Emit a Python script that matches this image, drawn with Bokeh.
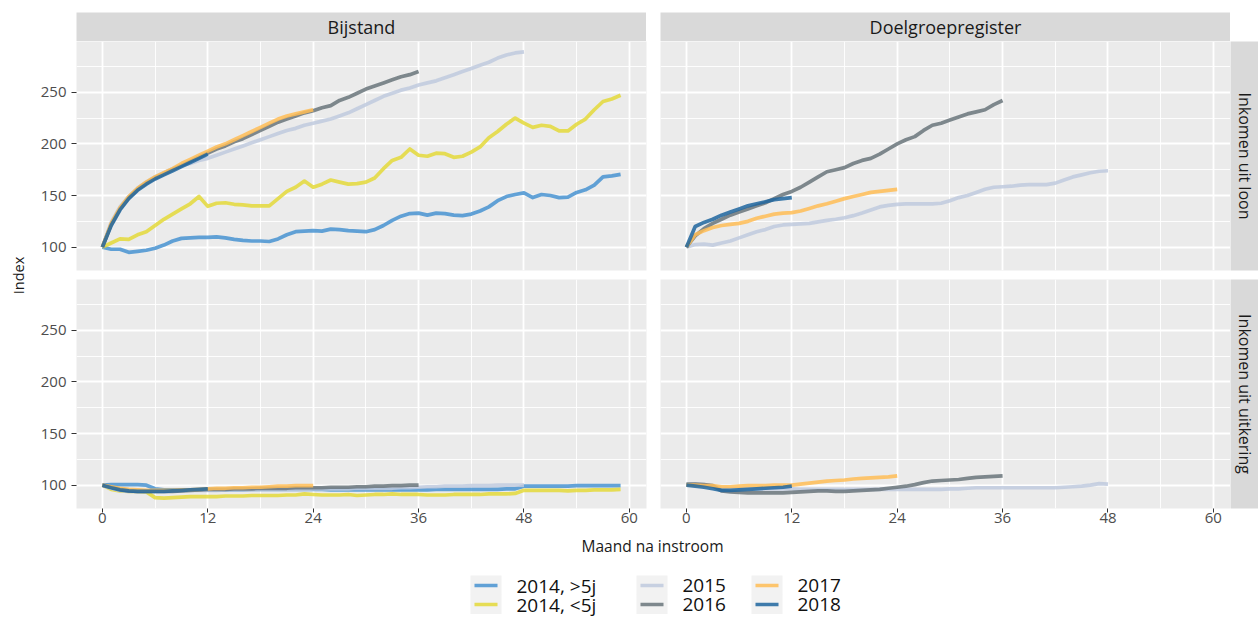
import math
from bokeh.plotting import figure
from bokeh.models import Range1d, FixedTicker, Label, Spacer
from bokeh.layouts import column, row
from bokeh.embed import file_html
from bokeh.resources import INLINE

FONT = "Open Sans"

# ---------------- data ----------------
series_names = ["2014, >5j", "2014, <5j", "2015", "2016", "2017", "2018"]
series_colors = ["#4893D1", "#E4D93A", "#C0CADE", "#6A757B", "#FFBD56", "#20669F"]

facet_cols = ["Bijstand", "Doelgroepregister"]
facet_rows = ["Inkomen uit loon", "Inkomen uit uitkering"]

x_ticks = [0, 12, 24, 36, 48, 60]
x_minor = [6, 18, 30, 42, 54]
y_ticks = [100, 150, 200, 250]
y_minor = [125, 175, 225, 275]

# Bijstand - Inkomen uit loon
bij_loon_2014_gt5 = [100, 98, 98, 95, 96, 97, 99, 102, 106, 108.5,
                     109, 109.5, 109.5, 110, 109, 107.5, 106.5, 106, 106, 105.5,
                     108, 112, 115, 115.5, 116, 115.5, 117.5, 117, 116, 115.5,
                     115, 117, 121, 126, 130, 132.5, 133, 131, 133, 132.5,
                     131, 130.5, 132, 135, 139, 145, 149, 151, 152.5, 148,
                     151, 150, 148, 148.5, 153, 155.5, 160, 168, 169, 170.5]
bij_loon_2014_lt5 = [100, 104, 108, 107.5, 112, 115, 121, 127, 132, 137,
                     142, 149, 139.5, 142.5, 143, 141.5, 141, 140, 140, 140,
                     147, 154, 158, 164, 158, 161, 165, 163, 161, 161.5,
                     163, 167, 176, 184, 187, 195, 189, 188, 191, 190.5,
                     187, 188, 192, 197, 206, 212, 219, 225, 220, 216,
                     218, 217, 212.5, 212.5, 219, 224, 233, 241, 243.5, 247]
bij_loon_2015 = [100, 124, 139, 149, 157, 163, 168, 172, 176, 179,
                 181, 184, 186, 189, 192, 195, 198, 201, 204, 207,
                 210, 213, 215, 218, 220, 222, 224, 227, 230, 234,
                 238, 242, 246, 249, 252, 254, 257, 259, 261, 264,
                 267, 270, 273, 276, 279, 283, 286, 288, 289]
bij_loon_2016 = [100, 122, 137, 148, 156, 162, 167, 171, 175, 179,
                 183, 187, 191, 195, 198, 202, 205, 209, 213, 217,
                 221, 224, 227, 230, 232, 235, 237, 242, 245, 249,
                 253, 256, 259, 262, 265, 267, 270]
bij_loon_2017 = [100, 123, 138, 149, 157, 163, 168, 172, 176, 181,
                 185, 189, 193, 197, 200, 204, 208, 212, 216, 220,
                 224, 227, 229, 231, 233]
bij_loon_2018 = [100, 121, 136, 147, 155, 161, 166, 170, 174, 178,
                 182, 186, 190]

# Doelgroepregister - Inkomen uit loon
dgr_loon_2015 = [100, 102.5, 103, 102, 104, 106, 109, 112, 115, 117,
                 120, 121.5, 122, 122.5, 123, 124.5, 126, 127, 128.5, 130.5,
                 133, 136, 139, 140.5, 141.5, 142, 142, 142, 142, 142.5,
                 145, 148, 150, 153, 156, 158, 158.5, 159, 160, 160.5,
                 160.5, 160.5, 162, 165, 168, 170, 172, 173.5, 174]
dgr_loon_2016 = [100, 111, 118, 123, 127, 131, 134, 137, 140, 143,
                 147, 151, 154, 158, 163, 168, 173, 175, 177, 181,
                 184, 186, 190, 195, 200, 204, 207, 213, 218, 220,
                 223, 226, 229, 231, 233, 238, 242]
dgr_loon_2017 = [100, 112, 116, 119, 121, 122, 123, 125, 128, 130,
                 132, 133, 133.5, 135, 137.5, 140, 142, 144.5, 147, 149,
                 151, 153, 154, 155, 156]
dgr_loon_2018 = [100, 120, 124, 127, 131, 134, 137, 140, 142, 144,
                 146, 147, 148]

# Bijstand - Inkomen uit uitkering
bij_uitk_2014_gt5 = [100, 100.5, 100.5, 100.5, 100.5, 100, 96.5, 95.5, 95.5, 95.5,
                     95.5, 95.5, 95.5, 95.5, 95.5, 95.5, 95.5, 96, 96, 96,
                     96, 96, 96, 96, 96, 96, 95.5, 95.5, 95.5, 95.5,
                     95.5, 95.5, 95.5, 95.5, 95.5, 95.5, 95.5, 95.5, 96, 96,
                     96, 96, 96, 96, 96, 96, 96.5, 96.5, 99, 99,
                     99, 99, 99, 99, 99.5, 99.5, 99.5, 99.5, 99.5, 99.5]
bij_uitk_2014_lt5 = [100, 96, 94.5, 94, 94, 93.5, 88, 87.5, 88, 88.5,
                     89, 89, 89, 89, 89.5, 89.5, 89.5, 90, 90, 90,
                     90, 90.5, 90.5, 91.5, 91, 90.5, 90.5, 90.5, 91, 90,
                     90.5, 91, 91, 91.5, 91, 91, 91, 90.5, 90.5, 90.5,
                     91, 91, 91, 91, 91.5, 91.5, 91.5, 92, 95, 95,
                     95, 95, 95, 94.5, 95, 95, 95.5, 95.5, 95.5, 96]
bij_uitk_2015 = [100, 97, 95, 94, 94, 94, 94.5, 94.5, 94.5, 95,
                 95, 95, 95, 95, 95.5, 95.5, 95.5, 95.5, 96, 96,
                 96, 96, 96, 96, 96.5, 96.5, 96.5, 96.5, 96.5, 97,
                 97, 97, 97, 97, 97.5, 97.5, 98, 98.5, 98.5, 99,
                 99, 99, 99.5, 99.5, 99.5, 100, 100, 100, 100]
bij_uitk_2016 = [100, 98, 96, 94.5, 94, 94, 94, 94, 94, 94.5,
                 95, 95.5, 96, 96, 96, 96.5, 96.5, 96.5, 97, 97,
                 97, 97, 97.5, 97.5, 97.5, 97.5, 98, 98, 98, 98.5,
                 98.5, 99, 99, 99.5, 99.5, 100, 100]
bij_uitk_2017 = [100, 98.5, 97, 96, 95.5, 95, 95, 95, 95, 95.5,
                 95.5, 96, 96.5, 97, 97, 97.5, 97.5, 98, 98, 98.5,
                 99, 99, 99.5, 99.5, 99.5]
bij_uitk_2018 = [100, 97.5, 95.5, 94.5, 94, 94, 94, 94, 94.5, 95,
                 95.5, 96, 96.5]

# Doelgroepregister - Inkomen uit uitkering
dgr_uitk_2015 = [100, 101, 100.5, 99, 97, 96.5, 96.5, 96.5, 96.5, 96.5,
                 96.5, 96.5, 96.5, 96, 96, 96, 96, 96, 96, 96,
                 96, 96, 96, 96, 96, 96, 96, 96, 96, 96,
                 96.5, 96.5, 97, 97.5, 97.5, 97.5, 97.5, 97.5, 97.5, 97.5,
                 97.5, 97.5, 97.5, 98, 98.5, 99, 100, 101.5, 101]
dgr_uitk_2016 = [101, 101, 100.5, 99.5, 94.5, 93.5, 93, 92.5, 92.5, 92.5,
                 92.5, 92.5, 93, 93.5, 94, 94.5, 94.5, 94, 94, 94.5,
                 95, 95.5, 96, 97, 98, 99, 100.5, 102.5, 104, 104.5,
                 105, 105.5, 106.5, 107.5, 108, 108.5, 109]
dgr_uitk_2017 = [100, 100, 99.5, 99.5, 98.5, 98.5, 99, 99.5, 99.5, 99.5,
                 100, 100, 100, 101, 102, 103, 104, 104.5, 105, 106,
                 106.5, 107, 107.5, 108, 109]
dgr_uitk_2018 = [100, 99, 98, 96.5, 95, 95, 95.5, 96, 96.5, 97,
                 97.5, 98, 99]

panel_data = {
    (0, 0): [bij_loon_2014_gt5, bij_loon_2014_lt5, bij_loon_2015, bij_loon_2016, bij_loon_2017, bij_loon_2018],
    (0, 1): [None, None, dgr_loon_2015, dgr_loon_2016, dgr_loon_2017, dgr_loon_2018],
    (1, 0): [bij_uitk_2014_gt5, bij_uitk_2014_lt5, bij_uitk_2015, bij_uitk_2016, bij_uitk_2017, bij_uitk_2018],
    (1, 1): [None, None, dgr_uitk_2015, dgr_uitk_2016, dgr_uitk_2017, dgr_uitk_2018],
}

# ---------------- shared scales (ggplot-like 5% expansion) ----------------
all_vals = [v for lst in panel_data.values() for s in lst if s is not None for v in s]
all_x_max = max(len(s) - 1 for lst in panel_data.values() for s in lst if s is not None)
y_lo, y_hi = min(all_vals), max(all_vals)
y_pad = 0.05 * (y_hi - y_lo)
x_pad = 0.05 * all_x_max
x_range = Range1d(0 - x_pad, all_x_max + x_pad)
y_range = Range1d(y_lo - y_pad, y_hi + y_pad)

PANEL_BG = "#EBEBEB"
STRIP_BG = "#D9D9D9"
FRAME_W = 570
FRAME_H = 229
LEFT_W = 28      # y-title column
RSTRIP_W = 28    # right strip width
TOP_GAP = 12
ROW_GAP = 9
X_AXIS_H = 25


def panel(r, c):
    show_x = (r == 1)
    show_y = (c == 0)
    mb_left = 48 if show_y else 0
    mb_right = 14 if c == 0 else 0
    mb_bottom = X_AXIS_H if show_x else ROW_GAP
    p = figure(width=mb_left + FRAME_W + mb_right, height=FRAME_H + mb_bottom,
               x_range=x_range, y_range=y_range,
               x_axis_location="below" if show_x else None,
               y_axis_location="left" if show_y else None,
               output_backend="svg", toolbar_location=None, title=None,
               min_border_left=mb_left, min_border_right=mb_right,
               min_border_top=0, min_border_bottom=mb_bottom,
               background_fill_color=PANEL_BG, border_fill_color="white",
               outline_line_color=None)
    p.xgrid.ticker = FixedTicker(ticks=x_ticks, minor_ticks=x_minor)
    p.ygrid.ticker = FixedTicker(ticks=y_ticks, minor_ticks=y_minor)
    for g in (p.xgrid, p.ygrid):
        g.grid_line_color = "white"
        g.grid_line_width = 1.8
        g.minor_grid_line_color = "white"
        g.minor_grid_line_width = 0.9
    if show_x:
        ax = p.xaxis[0]
        ax.ticker = FixedTicker(ticks=x_ticks)
        ax.major_tick_out = 4
        ax.major_label_standoff = 0
    if show_y:
        ax = p.yaxis[0]
        ax.ticker = FixedTicker(ticks=y_ticks)
        ax.major_tick_out = 5
        ax.major_label_standoff = 5
    for ax in p.axis:
        ax.axis_line_color = None
        ax.major_tick_in = 0
        ax.major_tick_line_color = "#333333"
        ax.major_tick_line_width = 1
        ax.minor_tick_line_color = None
        ax.major_label_text_font = FONT
        ax.major_label_text_font_size = "15px"
        ax.major_label_text_color = "#4D4D4D"
    for s, col in zip(panel_data[(r, c)], series_colors):
        if s is None:
            continue
        p.line(list(range(len(s))), s, line_color=col, line_width=3.7,
               line_alpha=0.85, line_join="round")
    return p


def blank_fig(width, height, xr, yr, bg="white", mb_bottom=0, mb_top=0):
    p = figure(width=width, height=height, x_range=xr, y_range=yr,
               x_axis_location=None, y_axis_location=None,
               output_backend="svg", toolbar_location=None, title=None,
               min_border_left=0, min_border_right=0,
               min_border_top=mb_top, min_border_bottom=mb_bottom,
               background_fill_color=bg, border_fill_color="white",
               outline_line_color=None)
    p.xgrid.visible = False
    p.ygrid.visible = False
    return p


def strip(width, height, text, angle, size, mb_bottom=0):
    p = blank_fig(width, height, Range1d(0, 1), Range1d(0, 1), bg=STRIP_BG, mb_bottom=mb_bottom)
    p.add_layout(Label(x=0.5, y=0.5, text=text, angle=angle, text_align="center",
                       text_baseline="middle", text_font=FONT, text_font_size=size,
                       text_color="#1A1A1A"))
    return p


tl = panel(0, 0)
tr = panel(0, 1)
bl = panel(1, 0)
br = panel(1, 1)

strip_top_l = strip(FRAME_W, 29, facet_cols[0], 0, "18px")
strip_top_r = strip(FRAME_W, 29, facet_cols[1], 0, "18px")
strip_right_1 = strip(RSTRIP_W, FRAME_H + ROW_GAP, facet_rows[0], -math.pi / 2, "16px", mb_bottom=ROW_GAP)
strip_right_2 = strip(RSTRIP_W, FRAME_H + X_AXIS_H, facet_rows[1], -math.pi / 2, "16px", mb_bottom=X_AXIS_H)

total_w = LEFT_W + (48 + FRAME_W + 14) + FRAME_W + RSTRIP_W
grid_top = TOP_GAP + 29

# y-axis title spanning both rows (coordinates = page pixels)
idx_h = (FRAME_H + ROW_GAP) + (FRAME_H + X_AXIS_H)
idx = blank_fig(LEFT_W, idx_h, Range1d(0, LEFT_W), Range1d(grid_top + idx_h, grid_top))
idx.add_layout(Label(x=18, y=275, text="Index", angle=math.pi / 2, text_align="center",
                     text_baseline="middle", text_font=FONT, text_font_size="14.5px",
                     text_color="#1A1A1A"))

# x-axis title + legend (coordinates = page pixels)
bot_top = grid_top + idx_h
bot_h = 618 - bot_top
bot = blank_fig(total_w, bot_h, Range1d(0, total_w), Range1d(bot_top + bot_h, bot_top))
bot.add_layout(Label(x=652, y=545, text="Maand na instroom", text_align="center",
                     text_baseline="middle", text_font=FONT, text_font_size="15.5px",
                     text_color="#1A1A1A"))

key_left = [470, 636, 751]
key_w = 31
row_y = [585, 604]
for i, (name, col) in enumerate(zip(series_names, series_colors)):
    ci, ri = i // 2, i % 2
    x0 = key_left[ci]
    top = row_y[ri] - 10
    bottom = row_y[ri] + 9.5
    bot.quad(left=[x0], right=[x0 + key_w], top=[top], bottom=[bottom],
             fill_color="#F2F2F2", line_color=None)
    bot.segment(x0=[x0 + 4], x1=[x0 + key_w - 4], y0=[row_y[ri]], y1=[row_y[ri]],
                line_color=col, line_width=3.7, line_alpha=0.85)
    bot.add_layout(Label(x=x0 + 46, y=row_y[ri], text=name, text_align="left",
                         text_baseline="middle", text_font=FONT, text_font_size="19px",
                         text_color="#111111"))

layout = column(
    Spacer(width=total_w, height=TOP_GAP),
    row(Spacer(width=LEFT_W + 48, height=29), strip_top_l, Spacer(width=14, height=29), strip_top_r,
        Spacer(width=RSTRIP_W, height=29)),
    row(idx, column(row(tl, tr, strip_right_1), row(bl, br, strip_right_2))),
    bot,
)

open("out.html", "w").write(file_html(layout, INLINE))
